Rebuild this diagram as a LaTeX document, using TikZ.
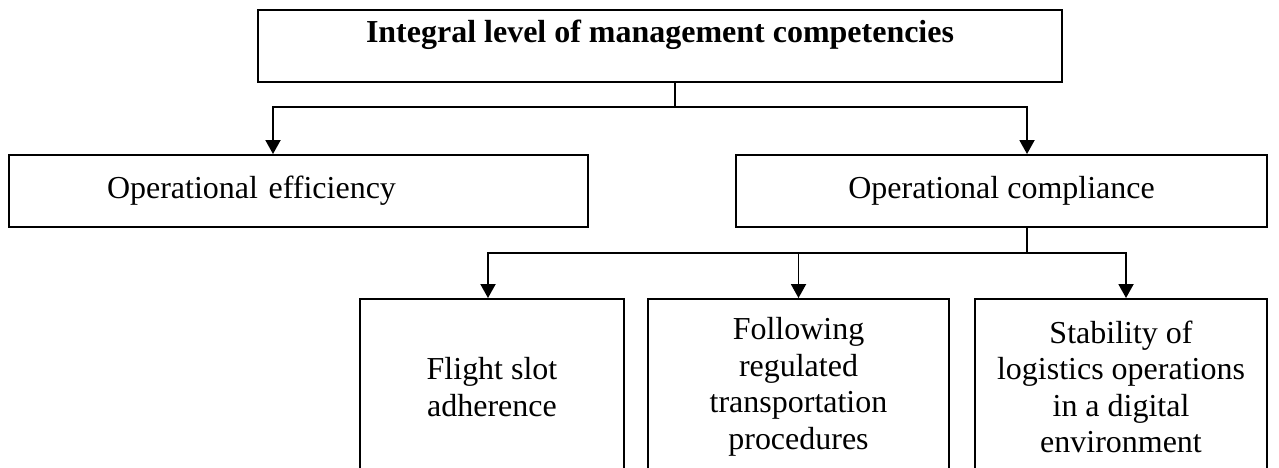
\documentclass[tikz,border=0pt]{standalone}
\usepackage{fontspec}
\setmainfont{Liberation Serif}
\usepackage{tikz}
\usetikzlibrary{arrows.meta}
\tikzstyle{arrow} = [line width=1.1pt,-{Triangle[width=0.3cm,length=0.28cm]}]
\tikzstyle{link} = [line width=1.1pt]
\tikzstyle{rec} = [rectangle, minimum height=1.44cm, text centered, draw=black, line width=1.1pt, font=\fontsize{18.2}{20.8}\selectfont]
\tikzstyle{tallRec} = [rec, minimum height=3.52cm, align=center]

\begin{document}
\begin{tikzpicture}[node distance=2.9cm]
		\useasboundingbox (0,0) rectangle (25.58,-9.36);
		\node (integral) [rec, minimum width=16.08cm, inner ysep=0pt, text height=0.66cm, text depth=0.78cm, font=\fontsize{18.2}{20.8}\selectfont\bfseries] at (13.2,-0.92) {Integral level of management competencies};
		\node (efficiency) [rec, below of=integral, xshift=-7.23cm, inner xsep=1.96cm, text width=7.66cm, align=left] {Operational efficiency};
		\node (compliance) [rec, minimum width=10.62cm, below of=integral, xshift=6.83cm] {Operational compliance};
		\node (slot) [tallRec, minimum width=5.28cm, below of=compliance, xshift=-10.19cm, yshift=-1.02cm] {Flight slot\\adherence};
		\node (procedures) [tallRec, minimum width=6.02cm, below of=compliance, xshift=-4.06cm, yshift=-1.02cm] {Following\\regulated\\transportation\\procedures};
		\node (stability) [tallRec, minimum width=5.84cm, below of=compliance, xshift=2.39cm, yshift=-1.02cm] {Stability of\\logistics operations\\in a digital\\environment};
		\draw [link] ([xshift=0.3cm]integral.south) -- ++(0,-0.48) coordinate (fork1);
		\draw [arrow] (fork1) -| ([xshift=-0.51cm]efficiency.north);
		\draw [arrow] (fork1) -| ([xshift=0.51cm]compliance.north);
		\draw [link] ([xshift=0.51cm]compliance.south) -- ++(0,-0.5) coordinate (fork2);
		\draw [arrow] (fork2) -| ([xshift=-0.08cm]slot.north);
		\draw [arrow] (fork2) -| (procedures.north);
		\draw [arrow] (fork2) -| ([xshift=0.1cm]stability.north);
	\end{tikzpicture}
\end{document}
